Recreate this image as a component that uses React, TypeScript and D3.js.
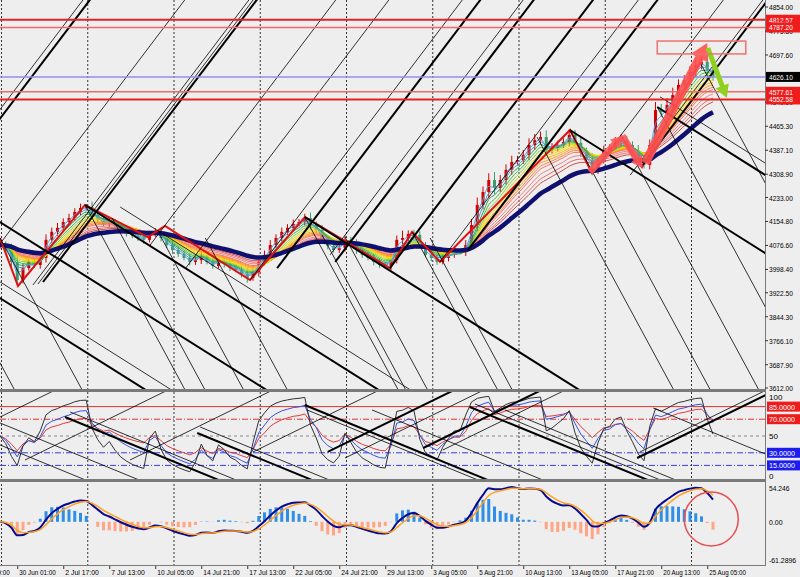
import React from 'react';
import * as d3 from 'd3';

// ---------- DATA ----------
const CLOSES = [4078,4062,4023,3964,4003,4023,4013,4036,4095,4121,
4134,4153,4166,4186,4199,4202,4176,4160,4147,4153,
4140,4127,4117,4108,4101,4095,4114,4121,4101,4078,
4062,4049,4036,4023,4029,4042,4023,4010,4023,4016,
4003,3997,3984,3971,3990,4023,4046,4078,4101,4121,
4134,4147,4153,4166,4143,4127,4095,4075,4062,4068,
4095,4081,4062,4046,4036,4023,4013,4010,4029,4095,
4101,4114,4111,4078,4046,4036,4023,4036,4046,4055,
4055,4078,4143,4209,4251,4290,4264,4290,4323,4349,
4355,4372,4404,4420,4430,4388,4394,4404,4414,4437,
4411,4381,4355,4323,4355,4388,4394,4414,4420,4404,
4388,4362,4339,4404,4518,4512,4535,4567,4600,4616,
4642,4665,4675,4650,4626];

const WICKS = [15,12,20,22,14,10,12,15,18,14,
16,12,14,12,14,10,18,12,10,14,
10,12,14,10,12,16,10,12,14,12,
16,12,10,14,12,16,10,12,10,14,
12,10,14,20,12,18,14,16,12,14,
12,14,10,14,18,12,16,14,10,12,
14,10,16,12,10,14,12,10,18,14,
24,12,14,12,10,14,12,10,14,12,
10,16,20,24,18,22,26,16,18,20,
14,16,22,20,18,22,16,14,12,18,
16,20,14,22,16,14,12,16,18,14,
12,16,14,18,26,20,22,24,18,16,
20,22,18,24,16];

const ZIGZAG = [[0,4101],[3.13,3944.5],[14.78,4208.6],[25.74,4104],[28.7,4140],[43.48,3964],
[53.04,4169.5],[67.83,4003],[71.65,4120.6],[76.52,4023],[99.13,4453],[102.96,4313],
[108.17,4430],[111.65,4332],[121.74,4675]];

// Gann-type rays (origin bar, origin price)
const UP_SLOPE = 24.74;       // price per bar
const SHALLOW_SLOPE = -11.81;
const STEEP_SLOPE = -34.68;
const UP_THIN = [[-36.7,3612],[-19.0,3612],[5.74,3948],[6.6,3951],[26.1,4078],[32.3,4003],
[43.5,3964],[57.4,4046],[76.5,4023],[103.0,4313],[109.6,4306]];
const UP_THICK = [[-35.5,3612],[7.48,3957.6],[48.2,4003],[58.3,4023],[67.8,4003],[81.4,4062],[111.8,4339]];
const SHALLOW_THICK = [[-10,4271],[-10,4023],[14.8,4208.6],[53.0,4169.5],[99.1,4453],[114.3,4528]];
const SHALLOW_THIN = [[-10,4076],[20.9,4202],[114.8,4561]];
const STEEP_THIN = [[-5,3867],[0,4101],[14.8,4208.6],[19.5,4166],[27.8,4111],[35.7,4101],
[53.0,4169.5],[56.0,4111],[60.0,4104],[71.7,4120.6],[74.8,4101],[93.4,4430],[99.1,4453],
[108.2,4430],[114.3,4528],[121.7,4675]];

const RED_LEVELS_STRONG = [4812.57, 4552.58];
const RED_LEVELS_WEAK = [4787.20, 4577.61];
const CURRENT_PRICE = 4626.10;
const PRICE_TICKS = [4854.00,4775.80,4697.60,4543.50,4465.30,4387.10,4308.90,4233.00,
4154.80,4076.60,3998.40,3922.50,3844.30,3766.10,3687.90,3612.00];

const RED_ARROWS = [[102.6,4316,108.2,4434],[108.2,4434,111.7,4329]];
const BIG_RED_ARROW = [112.2,4345,123.0,4737];
const GREEN_ARROW = [123.1,4720,126.4,4557];
const TARGET_BOX = [114.3,4743,129.7,4701];

const GRID_BARS = [0,15,30,45,60,75,90,105,120];
const TIME_LABEL_BARS = [-5,3,11,19,27,35,43,51,59,67,75,83,91,99,107,115,123];
const TIME_LABELS = ["26 Jun 09:00","30 Jun 01:00","2 Jul 17:00","7 Jul 13:00","10 Jul 05:00",
"14 Jul 21:00","17 Jul 13:00","22 Jul 05:00","24 Jul 21:00","29 Jul 13:00","3 Aug 05:00",
"5 Aug 21:00","10 Aug 13:00","13 Aug 05:00","17 Aug 21:00","20 Aug 13:00","25 Aug 05:00"];

const RIBBON_PERIODS = [2,3,4,5,6,7,8,9,10,11,12,14,16,18];
const SLOW_PERIOD = 24;

// oscillator panel
const RSI_PERIODS = [4,7,11];
const OSC_UP_SLOPE = 3.354;
const OSC_DOWN_SLOPE = -2.806;
const OSC_UP_THIN = [[4.35,21.4],[-10,39],[22.6,21.4],[44.0,31.0],[60.0,23.8],[77.0,33.3],[111.3,31.0]];
const OSC_UP_THICK = [[57.0,31.0],[73.6,35.7],[110.8,23.8]];
const OSC_DOWN_THIN = [[-10,93.6],[-10,67.4],[12.2,78.6],[34.8,60.7],[53.4,81.0],[64.7,81.0],[82.6,88.1],[87.8,81.0],[113.6,83.3]];
const OSC_DOWN_THICK = [[11.3,72.6],[34.3,53.6],[53.0,86.9],[81.7,84.5]];
const OSC_HIGH_LEVELS = [85, 70];
const OSC_LOW_LEVELS = [30, 15];
const OSC_PLAIN_TICKS = [100, 50, 0];

// MACD panel
const MACD_FAST = 5, MACD_SLOW = 10, MACD_SIGNAL = 3, MACD_HIST = 6;
const MACD_TICKS = [54.246, 0, -61.2896];
const MACD_TICK_TEXT = ["54.246", "0.00", "-61.2896"];
const CIRCLE_MARK = [123.7, 4.5];

// ---------- helpers ----------
function ema(arr: number[], n: number) {
  const k = 2 / (n + 1);
  const out: number[] = [];
  let prev = arr[0];
  arr.forEach((v, i) => { prev = i === 0 ? v : v * k + prev * (1 - k); out.push(prev); });
  return out;
}
function rsi(arr: number[], n: number) {
  const out: number[] = [50];
  let ag = 12, al = 12;
  for (let i = 1; i < arr.length; i++) {
    const d = arr[i] - arr[i - 1];
    const g = Math.max(d, 0), l = Math.max(-d, 0);
    ag = (ag * (n - 1) + g) / n;
    al = (al * (n - 1) + l) / n;
    out.push(al === 0 ? 100 : 100 - 100 / (1 + ag / al));
  }
  return out;
}
function arrowPoints(x1: number, y1: number, x2: number, y2: number, sw: number, hw: number, hl: number) {
  const dx = x2 - x1, dy = y2 - y1;
  const L = Math.hypot(dx, dy);
  const ux = dx / L, uy = dy / L, px = -uy, py = ux;
  const bx = x2 - ux * hl, by = y2 - uy * hl;
  const pts = [
    [x1 + px * sw / 2, y1 + py * sw / 2], [bx + px * sw / 2, by + py * sw / 2],
    [bx + px * hw / 2, by + py * hw / 2], [x2, y2],
    [bx - px * hw / 2, by - py * hw / 2], [bx - px * sw / 2, by - py * sw / 2],
    [x1 - px * sw / 2, y1 - py * sw / 2]];
  return pts.map(p => p.join(',')).join(' ');
}

const FONT = '"Liberation Sans", Arial, sans-serif';
const BG = '#eeeeee';
const AXIS = '#7a7a7a';
const PLOT_R = 765;

export default function App() {
  const n = CLOSES.length;
  const x = d3.scaleLinear().domain([0, n - 1]).range([0, 713]);
  const y = d3.scaleLinear().domain([3612, 4854]).range([388, 7]);
  const yr = d3.scaleLinear().domain([0, 100]).range([478, 394]);
  const ym = d3.scaleLinear().domain([-61.2896, 54.246]).range([560, 488]);

  const opens = CLOSES.map((c, i) => (i === 0 ? c : CLOSES[i - 1]));
  const ribbonColors = ['#5b9bd5','#4aa3c8','#2e9e5b','#3cc13c','#9acd32','#d9d919','#ffd700',
    '#ffb300','#ff9a1a','#ff8040','#ff7060','#f08080','#e86a6a','#d84848'];
  const ribbons = RIBBON_PERIODS.map(p => ema(CLOSES, p));
  const slow = ema(CLOSES, SLOW_PERIOD);

  const priceLine = d3.line<number>().x((_, i) => x(i)).y(v => y(v)).curve(d3.curveMonotoneX);
  const oscLine = d3.line<number>().x((_, i) => x(i)).y(v => yr(v));
  const macdLine = d3.line<number>().x((_, i) => x(i)).y(v => ym(v)).curve(d3.curveMonotoneX);

  const rsis = RSI_PERIODS.map(p => rsi(CLOSES, p));
  const fast = ema(CLOSES, MACD_FAST), slw = ema(CLOSES, MACD_SLOW);
  const macd = fast.map((v, i) => v - slw[i]);
  const signal = ema(macd, MACD_SIGNAL);
  const histBase = ema(macd, MACD_HIST);
  const hist = macd.map((v, i) => 1.5 * (v - histBase[i]));

  const ray = (o: number[], slope: number, sy: (v: number) => number, key: string, w: number) => (
    <line key={key} x1={x(o[0])} y1={sy(o[1])} x2={x(o[0] + 300)} y2={sy(o[1] + slope * 300)}
      stroke="#000" strokeWidth={w} />
  );

  const textLen = (s: string, k: number) => s.length * k;

  return (
    <svg width={800} height={577} style={{ position: 'absolute', left: 0, top: 0, background: BG }}
      fontFamily={FONT}>
      <defs>
        <clipPath id="cMain"><rect x={0} y={0} width={PLOT_R} height={389} /></clipPath>
        <clipPath id="cOsc"><rect x={0} y={392} width={PLOT_R} height={87} /></clipPath>
        <clipPath id="cMacd"><rect x={0} y={482} width={PLOT_R} height={83} /></clipPath>
      </defs>
      <rect x={0} y={0} width={800} height={577} fill={BG} />

      {/* vertical dotted grid */}
      {GRID_BARS.map(b => (
        <line key={'g' + b} x1={x(b) + 1.5} x2={x(b) + 1.5} y1={0} y2={565} stroke="#333"
          strokeWidth={1} strokeDasharray="2,2" />
      ))}

      {/* ---------- MAIN PANEL ---------- */}
      <g clipPath="url(#cMain)">
        {CLOSES.map((c, i) => {
          const o = opens[i];
          const up = c >= o;
          const col = up ? '#d40000' : '#3a9a6c';
          const top = Math.max(o, c), bot = Math.min(o, c);
          return (
            <g key={'c' + i}>
              <line x1={x(i)} x2={x(i)} y1={y(top + WICKS[i])} y2={y(bot - WICKS[i] * 0.8)} stroke={col} strokeWidth={1} />
              <rect x={x(i) - 1.5} width={3} y={y(top)} height={Math.max(1, y(bot) - y(top))} fill={col} />
            </g>
          );
        })}
        {ribbons.map((r, k) => (
          <path key={'r' + k} d={priceLine(r) || ''} fill="none" stroke={ribbonColors[k]} strokeWidth={1} />
        )).reverse()}
        <path d={priceLine(slow) || ''} fill="none" stroke="#10106e" strokeWidth={4.5} />
        <path d={d3.line<number[]>().x(p => x(p[0])).y(p => y(p[1]))(ZIGZAG) || ''} fill="none"
          stroke="#e01010" strokeWidth={2} />
        {UP_THIN.map((o, i) => ray(o, UP_SLOPE, y, 'ut' + i, 0.8))}
        {UP_THICK.map((o, i) => ray(o, UP_SLOPE, y, 'uk' + i, 2))}
        {SHALLOW_THIN.map((o, i) => ray(o, SHALLOW_SLOPE, y, 'st' + i, 0.8))}
        {SHALLOW_THICK.map((o, i) => ray(o, SHALLOW_SLOPE, y, 'sk' + i, 2))}
        {STEEP_THIN.map((o, i) => ray(o, STEEP_SLOPE, y, 'pt' + i, 0.8))}
        {RED_LEVELS_WEAK.map(v => (
          <line key={'lw' + v} x1={0} x2={PLOT_R} y1={y(v)} y2={y(v)} stroke="#f06a6a" strokeWidth={1.5} />
        ))}
        {RED_LEVELS_STRONG.map(v => (
          <line key={'ls' + v} x1={0} x2={PLOT_R} y1={y(v)} y2={y(v)} stroke="#e42222" strokeWidth={2} />
        ))}
        <line x1={0} x2={PLOT_R} y1={y(CURRENT_PRICE)} y2={y(CURRENT_PRICE)} stroke="#8f8ff0" strokeWidth={1.5} />
        {RED_ARROWS.map((a, i) => (
          <polygon key={'ra' + i} points={arrowPoints(x(a[0]), y(a[1]), x(a[2]), y(a[3]), 7, 13, 11)}
            fill="#ff5555" opacity={0.9} />
        ))}
        <polygon points={arrowPoints(x(BIG_RED_ARROW[0]), y(BIG_RED_ARROW[1]), x(BIG_RED_ARROW[2]), y(BIG_RED_ARROW[3]), 9, 19, 17)}
          fill="#ff5050" opacity={0.9} />
        <polygon points={arrowPoints(x(GREEN_ARROW[0]), y(GREEN_ARROW[1]), x(GREEN_ARROW[2]), y(GREEN_ARROW[3]), 5, 14, 13)}
          fill="#8fd11c" />
        <rect x={x(TARGET_BOX[0])} y={y(TARGET_BOX[1])} width={x(TARGET_BOX[2]) - x(TARGET_BOX[0])}
          height={y(TARGET_BOX[3]) - y(TARGET_BOX[1])} fill="none" stroke="#f07070" strokeWidth={1.5} />
      </g>

      {/* ---------- OSC PANEL ---------- */}
      <g clipPath="url(#cOsc)">
        {OSC_HIGH_LEVELS.map((v, i) => (
          <line key={'oh' + v} x1={0} x2={PLOT_R} y1={yr(v)} y2={yr(v)} stroke="#e03030" strokeWidth={1}
            strokeDasharray={i === 0 ? undefined : '6,2,1,2'} />
        ))}
        <line x1={0} x2={PLOT_R} y1={yr(50)} y2={yr(50)} stroke="#888" strokeWidth={1} strokeDasharray="3,3" />
        {OSC_LOW_LEVELS.map(v => (
          <line key={'ol' + v} x1={0} x2={PLOT_R} y1={yr(v)} y2={yr(v)} stroke="#3838e8" strokeWidth={1}
            strokeDasharray="6,2,1,2" />
        ))}
        <path d={oscLine(rsis[2]) || ''} fill="none" stroke="#e03a3a" strokeWidth={1} />
        <path d={oscLine(rsis[1]) || ''} fill="none" stroke="#3355e0" strokeWidth={1} />
        <path d={oscLine(rsis[0]) || ''} fill="none" stroke="#333" strokeWidth={1} />
        {OSC_UP_THIN.map((o, i) => ray(o, OSC_UP_SLOPE, yr, 'out' + i, 0.8))}
        {OSC_UP_THICK.map((o, i) => ray(o, OSC_UP_SLOPE, yr, 'ouk' + i, 2))}
        {OSC_DOWN_THIN.map((o, i) => ray(o, OSC_DOWN_SLOPE, yr, 'odt' + i, 0.8))}
        {OSC_DOWN_THICK.map((o, i) => ray(o, OSC_DOWN_SLOPE, yr, 'odk' + i, 2))}
      </g>

      {/* ---------- MACD PANEL ---------- */}
      <g clipPath="url(#cMacd)">
        {hist.map((h, i) => (
          <rect key={'h' + i} x={x(i) - 1.5} width={3} y={h >= 0 ? ym(h) : ym(0)}
            height={Math.abs(ym(h) - ym(0))} fill={h >= 0 ? '#2f8fe6' : '#ffa584'} />
        ))}
        <path d={macdLine(macd) || ''} fill="none" stroke="#0a0a90" strokeWidth={2} />
        <path d={macdLine(signal) || ''} fill="none" stroke="#ffa020" strokeWidth={1.5} />
        <circle cx={x(CIRCLE_MARK[0])} cy={ym(CIRCLE_MARK[1])} r={27} fill="none" stroke="#e85050" strokeWidth={1.5} />
      </g>

      {/* separators & axes */}
      <rect x={0} y={389} width={PLOT_R} height={3} fill={AXIS} />
      <rect x={0} y={479} width={PLOT_R} height={3} fill={AXIS} />
      <line x1={0} x2={PLOT_R} y1={565.5} y2={565.5} stroke={AXIS} strokeWidth={1} />
      <line x1={PLOT_R + 0.5} x2={PLOT_R + 0.5} y1={0} y2={566} stroke={AXIS} strokeWidth={1} />

      {/* price axis labels */}
      {PRICE_TICKS.map(v => (
        <g key={'pt' + v}>
          <line x1={PLOT_R} x2={PLOT_R + 3} y1={y(v)} y2={y(v)} stroke="#333" />
          <text x={769} y={y(v) + 3} fontSize={8} fill="#000" textLength={textLen(v.toFixed(2), 3.4)}
            lengthAdjust="spacingAndGlyphs">{v.toFixed(2)}</text>
        </g>
      ))}
      {[...RED_LEVELS_STRONG, ...RED_LEVELS_WEAK].map(v => (
        <g key={'rl' + v}>
          <rect x={766} y={y(v) - 5} width={34} height={10} fill="#ee1c1c" />
          <text x={769} y={y(v) + 3} fontSize={8} fill="#fff" textLength={textLen(v.toFixed(2), 3.4)}
            lengthAdjust="spacingAndGlyphs">{v.toFixed(2)}</text>
        </g>
      ))}
      <rect x={766} y={y(CURRENT_PRICE) - 5} width={34} height={10} fill="#000" />
      <text x={769} y={y(CURRENT_PRICE) + 3} fontSize={8} fill="#fff" textLength={textLen(CURRENT_PRICE.toFixed(2), 3.4)}
        lengthAdjust="spacingAndGlyphs">{CURRENT_PRICE.toFixed(2)}</text>

      {/* osc labels */}
      {OSC_PLAIN_TICKS.map(v => (
        <text key={'opt' + v} x={769} y={Math.min(Math.max(yr(v) + 3, 400), 479)} fontSize={8} fill="#000">{String(v)}</text>
      ))}
      {OSC_HIGH_LEVELS.map(v => (
        <g key={'ohl' + v}>
          <rect x={767} y={yr(v) - 5} width={33} height={10} fill="#ee1c1c" />
          <text x={769} y={yr(v) + 3} fontSize={8} fill="#fff" textLength={26} lengthAdjust="spacingAndGlyphs">{v.toFixed(4)}</text>
        </g>
      ))}
      {OSC_LOW_LEVELS.map(v => (
        <g key={'oll' + v}>
          <rect x={767} y={yr(v) - 5} width={33} height={10} fill="#1c1cee" />
          <text x={769} y={yr(v) + 3} fontSize={8} fill="#fff" textLength={26} lengthAdjust="spacingAndGlyphs">{v.toFixed(4)}</text>
        </g>
      ))}

      {/* macd labels */}
      {MACD_TICKS.map((v, i) => (
        <text key={'mt' + i} x={769} y={ym(v) + 3} fontSize={8} fill="#000"
          textLength={textLen(MACD_TICK_TEXT[i], 3.4)} lengthAdjust="spacingAndGlyphs">{MACD_TICK_TEXT[i]}</text>
      ))}

      {/* time labels */}
      {TIME_LABEL_BARS.map((b, i) => (
        <g key={'tl' + i}>
          <line x1={x(b) + 0.5} x2={x(b) + 0.5} y1={566} y2={569} stroke="#333" />
          <text x={x(b) + 2} y={575} fontSize={8} fill="#000" textLength={textLen(TIME_LABELS[i], 3.05)}
            lengthAdjust="spacingAndGlyphs">{TIME_LABELS[i]}</text>
        </g>
      ))}
    </svg>
  );
}
